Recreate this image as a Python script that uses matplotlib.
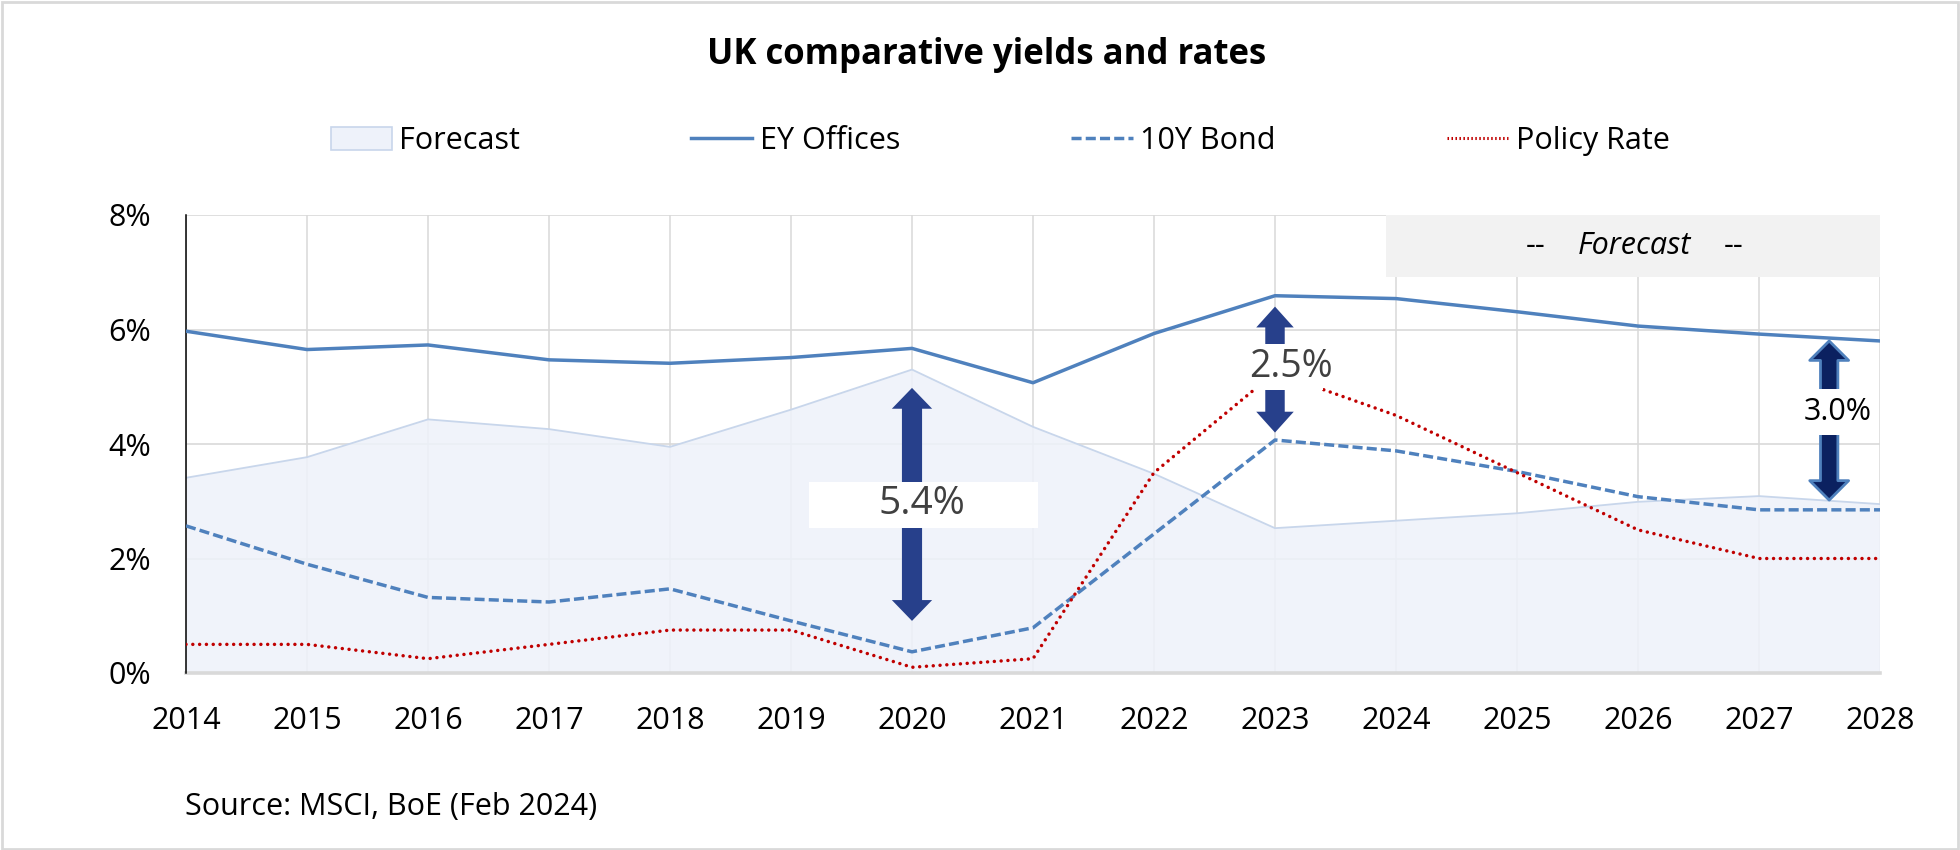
import matplotlib
matplotlib.use("Agg")
import matplotlib.pyplot as plt
from matplotlib.patches import Rectangle, Patch, FancyArrowPatch, ArrowStyle
from matplotlib.lines import Line2D

plt.rcParams['font.family'] = ['Open Sans', 'DejaVu Sans']

# --- data -------------------------------------------------------------
years = list(range(2014, 2029))
ey_offices = [5.97, 5.65, 5.73, 5.47, 5.41, 5.51, 5.67, 5.07, 5.93, 6.59, 6.54, 6.31, 6.06, 5.92, 5.80]
bond_10y = [2.57, 1.90, 1.32, 1.24, 1.47, 0.91, 0.37, 0.79, 2.43, 4.07, 3.88, 3.52, 3.08, 2.85, 2.85]
policy_rate = [0.50, 0.50, 0.25, 0.50, 0.75, 0.75, 0.10, 0.25, 3.50, 5.25, 4.50, 3.50, 2.50, 2.00, 2.00]
forecast_area = [3.41, 3.77, 4.43, 4.26, 3.95, 4.60, 5.30, 4.30, 3.48, 2.53, 2.66, 2.79, 2.99, 3.09, 2.95]

y_ticks = [0, 2, 4, 6, 8]
y_tick_labels = ["0%", "2%", "4%", "6%", "8%"]

# spread call-outs: x position, lower tip, upper tip, label value
gap_x = [2020, 2023, 2027.58]
gap_low = [0.91, 4.20, 3.02]
gap_high = [4.98, 6.40, 5.80]
gap_label = [5.4, 2.5, 3.0]

# --- colours ----------------------------------------------------------
BLUE = "#4F81BD"
RED = "#C00000"
FILL = "#EEF2FA"
FILL_EDGE = "#C8D6EB"
GRID = "#D9D9D9"
NAVY = "#27408B"

DASH = (0, (2.9, 1.2))
DOT = (0, (0.01, 1.95))

W, H = 1960, 850
fig = plt.figure(figsize=(W / 100, H / 100), dpi=100)
ax = fig.add_axes([186 / W, 1 - 673 / H, (1880 - 186) / W, (673 - 215) / H])

ax.set_xlim(years[0], years[-1])
ax.set_ylim(0, 8)

# gridlines
for yv in y_ticks[1:]:
    ax.axhline(yv, color=GRID, lw=1.2, zorder=1)
for xv in years:
    ax.axvline(xv, color=GRID, lw=1.1, zorder=1)

# shaded area
ax.fill_between(years, 0, forecast_area, facecolor=FILL, edgecolor="none", alpha=0.85, zorder=1.5)
ax.plot(years, forecast_area, color=FILL_EDGE, lw=1.3, zorder=1.6)

# baseline and left axis
ax.axhline(0, color=GRID, lw=2.6, zorder=2, clip_on=False)
ax.plot([years[0], years[0]], [0, 8], color="black", lw=1.1, zorder=2.1, clip_on=False)
for s in ax.spines.values():
    s.set_visible(False)

# forecast header box
ax.add_patch(Rectangle((2023.92, 6.92), years[-1] - 2023.92, 8 - 6.92,
                       facecolor="#F2F2F2", edgecolor="none", zorder=2.5))
ax.text(2025.15, 7.46, "--", ha="center", va="center", fontsize=22, zorder=3)
ax.text(2025.97, 7.46, "Forecast", ha="center", va="center", fontsize=22, style="italic", zorder=3)
ax.text(2026.79, 7.46, "--", ha="center", va="center", fontsize=22, zorder=3)

# series lines
ax.plot(years, ey_offices, color=BLUE, lw=2.5, zorder=4, solid_joinstyle="round")
ax.plot(years, bond_10y, color=BLUE, lw=2.5, ls=DASH, zorder=4)
ax.plot(years, policy_rate, color=RED, lw=2.5, ls=DOT, dash_capstyle="round", zorder=4)

# ticks
ax.set_xticks(years)
ax.set_xticklabels([str(y) for y in years], fontsize=22)
ax.set_yticks(y_ticks)
ax.set_yticklabels(y_tick_labels, fontsize=22)
ax.tick_params(axis="both", length=0)
ax.tick_params(axis="x", pad=24)
ax.tick_params(axis="y", pad=25)


def double_arrow(x, lo, hi, mid, face, edge, lw, sizes):
    head_len, head_w, tail_w = sizes
    style = ArrowStyle("Simple", head_length=head_len, head_width=head_w, tail_width=tail_w)
    for end in (lo, hi):
        ax.add_patch(FancyArrowPatch((x, mid), (x, end), arrowstyle=style, mutation_scale=1,
                                     shrinkA=0, shrinkB=0, facecolor=face, edgecolor=edge,
                                     lw=lw, zorder=5))


# 2020 spread
m0 = 2.95
double_arrow(gap_x[0], gap_low[0], gap_high[0], m0, NAVY, NAVY, 0, (15, 29, 14.5))
ax.add_patch(Rectangle((2019.15, 2.53), 2021.04 - 2019.15, 3.34 - 2.53,
                       facecolor="white", edgecolor="none", zorder=6))
ax.text(2020.08, m0, f"{gap_label[0]:.1f}%", ha="center", va="center",
        fontsize=28, color="#404040", zorder=7)

# 2023 spread
m1 = 5.35
double_arrow(gap_x[1], gap_low[1], gap_high[1], m1, NAVY, NAVY, 0, (15, 27, 14))
ax.add_patch(Rectangle((2022.83, 4.94), 2023.40 - 2022.83, 5.75 - 4.94,
                       facecolor="white", edgecolor="none", zorder=6))
ax.text(2023.13, m1, f"{gap_label[1]:.1f}%", ha="center", va="center",
        fontsize=27, color="#404040", zorder=7)

# 2028 spread
m2 = 4.56
double_arrow(gap_x[2], gap_low[2], gap_high[2], m2, "#0B2160", BLUE, 2.0, (14, 28, 12.5))
ax.add_patch(Rectangle((2027.31, 4.16), 2027.93 - 2027.31, 4.96 - 4.16,
                       facecolor="white", edgecolor="none", zorder=6))
ax.text(2027.65, m2, f"{gap_label[2]:.1f}%", ha="center", va="center",
        fontsize=22, color="black", zorder=7)

# title, legend, source
fig.text(987 / W, 1 - 55 / H, "UK comparative yields and rates", ha="center", va="center",
         fontsize=25, fontweight="bold")

handles = [
    Patch(facecolor=FILL, edgecolor=FILL_EDGE, lw=1.2),
    Line2D([], [], color=BLUE, lw=2.5),
    Line2D([], [], color=BLUE, lw=2.5, ls=DASH),
    Line2D([], [], color=RED, lw=2.2, ls=(0, (0.5, 0.8)), dash_capstyle="butt"),
]
labels = ["Forecast", "EY Offices", "10Y Bond", "Policy Rate"]
fig.legend(handles, labels, loc="center", bbox_to_anchor=(1000 / W, 1 - 141 / H), ncol=4,
           frameon=False, fontsize=22, handlelength=2.0, handletextpad=0.25,
           columnspacing=5.6, handleheight=0.8)

fig.text(185 / W, 1 - 807 / H, "Source: MSCI, BoE (Feb 2024)", ha="left", va="center", fontsize=22)

# outer frame
fig.patches.append(Rectangle((0.001, 0.001), 0.998, 0.997, transform=fig.transFigure,
                             fill=False, edgecolor=GRID, lw=2))

fig.savefig("out.png", dpi=100)
